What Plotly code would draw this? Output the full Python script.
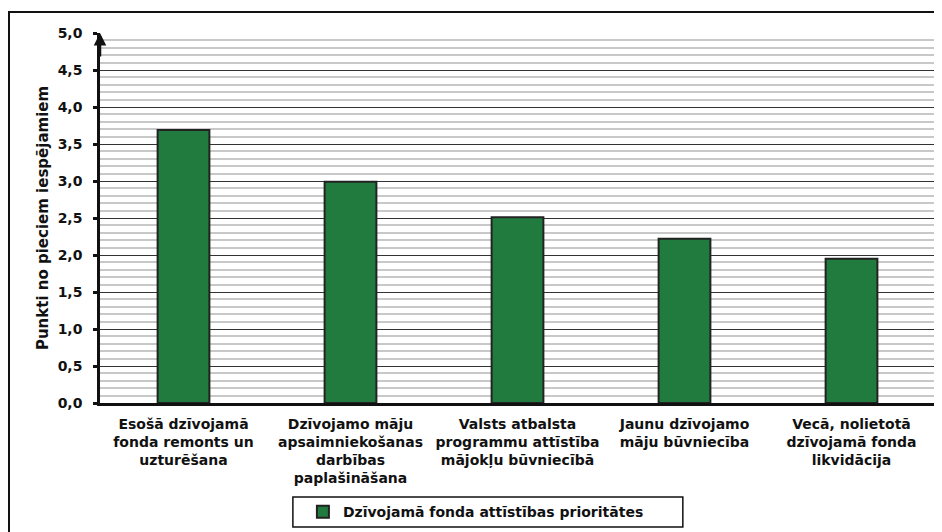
import plotly.graph_objects as go

categories = [
    "Esošā dzīvojamā<br>fonda remonts un<br>uzturēšana",
    "Dzīvojamo māju<br>apsaimniekošanas<br>darbības<br>paplašināšana",
    "Valsts atbalsta<br>programmu attīstība<br>mājokļu būvniecībā",
    "Jaunu dzīvojamo<br>māju būvniecība",
    "Vecā, nolietotā<br>dzīvojamā fonda<br>likvidācija",
]
values = [3.69, 2.99, 2.51, 2.22, 1.95]
series_name = "Dzīvojamā fonda attīstības prioritātes"
y_title = "Punkti no pieciem iespējamiem"

FONT = "DejaVu Sans"

fig = go.Figure()
fig.add_trace(go.Bar(
    x=categories, y=values, name=series_name,
    marker=dict(color="#217B3F", line=dict(color="#222222", width=2)),
    width=0.31, showlegend=True,
))

# page body has an 8px margin, so the figure is sized/offset accordingly
fig.update_layout(
    width=934, height=524,
    margin=dict(l=92, r=7, t=25, b=129, autoexpand=False),
    paper_bgcolor="white", plot_bgcolor="white",
    separators=", ",
    font=dict(family=FONT, size=13, color="#111111"),
    showlegend=True,
    legend=dict(
        orientation="h", x=0.243, xanchor="left", y=-0.295, yanchor="middle",
        bgcolor="rgba(0,0,0,0)", borderwidth=0,
        font=dict(family=FONT, size=14, color="#111111", weight="bold"),
        itemwidth=30,
    ),
)

fig.update_xaxes(
    automargin=False,
    showline=True, linecolor="#111111", linewidth=3,
    showgrid=False, ticks="", ticklabelstandoff=6,
    tickfont=dict(family=FONT, size=14, color="#111111", weight="bold"),
)
fig.update_yaxes(
    automargin=False,
    range=[0, 5], dtick=0.5, tickformat=".1f",
    showline=True, linecolor="#111111", linewidth=2.5,
    ticks="outside", ticklen=4, tickwidth=3, tickcolor="#111111",
    ticklabelstandoff=8,
    showgrid=True, gridcolor="#333333", gridwidth=1,
    minor=dict(dtick=0.1, showgrid=True, gridcolor="#c8c8c8", gridwidth=1.5),
    tickfont=dict(family=FONT, size=14, color="#111111", weight="bold"),
    title=dict(text=y_title, standoff=6,
               font=dict(family=FONT, size=15, color="#111111", weight="bold")),
    zeroline=False,
)

# outer chart border (left and top visible)
fig.add_shape(type="rect", xref="paper", yref="paper",
              x0=-0.109, x1=1.03, y0=-0.5, y1=1.057,
              line=dict(color="#111111", width=2), layer="below")
# legend frame
fig.add_shape(type="rect", xref="paper", yref="paper",
              x0=0.231, x1=0.698, y0=-0.335, y1=-0.254,
              line=dict(color="#111111", width=1.5), layer="below")
# right edge of plot area
fig.add_shape(type="line", xref="paper", yref="paper",
              x0=1, x1=1, y0=0, y1=1, line=dict(color="#999999", width=2))
# arrow on top of y axis
fig.add_annotation(xref="paper", yref="y", x=0, y=5, axref="pixel", ayref="pixel",
                   ax=0, ay=25, text="", showarrow=True, arrowhead=2,
                   arrowsize=1, arrowwidth=2.5, arrowcolor="#111111")

fig.write_html("out.html")
